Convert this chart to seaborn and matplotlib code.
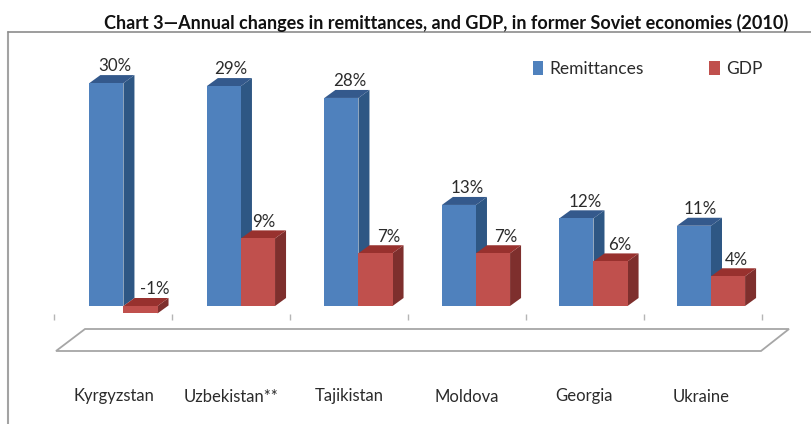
import pandas as pd
import matplotlib
matplotlib.use('Agg')
import matplotlib.pyplot as plt
import seaborn as sns
import numpy as np
from matplotlib.lines import Line2D
from matplotlib.patches import Polygon

# values (bar heights, labels are as printed)
countries = ['Kyrgyzstan', 'Uzbekistan**', 'Tajikistan', 'Moldova', 'Georgia', 'Ukraine']
remittances = [30.0, 29.6, 28.0, 13.6, 11.8, 10.8]
gdp = [-1.0, 9.1, 7.1, 7.1, 6.0, 4.0]
remittances_labels = ['30%', '29%', '28%', '13%', '12%', '11%']
gdp_labels = ['-1%', '9%', '7%', '7%', '6%', '4%']

W, H = 811, 424
BLUE, RED = '#4F81BD', '#C0504D'
shades = {BLUE: ('#2E5784', '#34598C'), RED: ('#7E2F2D', '#98312E')}
TEXT = '#2b2b2b'

sns.set_style('white')
plt.rcParams['font.family'] = ['Lato', 'DejaVu Sans']

df = pd.DataFrame({
    'Country': countries * 2,
    'Change': remittances + gdp,
    'Series': ['Remittances'] * 6 + ['GDP'] * 6,
})


def px(x, y):
    # pixel position in the picture -> figure fraction
    return x / W, 1 - y / H


fig = plt.figure(figsize=(W / 100, H / 100), dpi=100, facecolor='white')
ax = fig.add_axes([54 / W, 1 - 314 / H, 708 / W, 274 / H])
ax.patch.set_alpha(0)

sns.barplot(data=df, x='Country', y='Change', hue='Series', palette=[BLUE, RED],
            width=0.58, gap=0, saturation=1, edgecolor='none', linewidth=0, ax=ax)

ax.set_xlim(-0.591, 5.434)
ax.set_ylim(-1.077, 35.8)
sns.despine(ax=ax, left=True, bottom=True)
ax.set_xlabel('')
ax.set_ylabel('')
ax.set_yticks([])
ax.set_xticks(np.linspace(-0.591, 5.434, 7))
ax.set_xticklabels([])
ax.tick_params(axis='x', bottom=True, length=4.5, width=1, color='#b5b5b5')

# fake 3d: side and top faces hung on the real bars
dx = 11 / 117.5
dy = 8 / 7.43
nudges = [[8, 7, 8, 8, 9, 6], [14, 6, 13, 13, 9, 8]]
labels = [remittances_labels, gdp_labels]
for k, (cont, col) in enumerate(zip(ax.containers, [BLUE, RED])):
    side, top = shades[col]
    for i, bar in enumerate(cont):
        bar.set_zorder(2 + k * 2)
        x0, x1 = bar.get_x(), bar.get_x() + bar.get_width()
        y0, y1 = sorted([bar.get_y(), bar.get_y() + bar.get_height()])
        ax.add_patch(Polygon([(x1, y0), (x1 + dx, y0 + dy), (x1 + dx, y1 + dy), (x1, y1)],
                             fc=side, ec='none', zorder=1 + k * 2))
        ax.add_patch(Polygon([(x0, y1), (x0 + dx, y1 + dy), (x1 + dx, y1 + dy), (x1, y1)],
                             fc=top, ec='none', zorder=1 + k * 2))
        ax.annotate(labels[k][i], xy=((x0 + x1) / 2, y1 + dy), xytext=(nudges[k][i] * 0.72, 0.5),
                    textcoords='offset points', ha='center', va='bottom',
                    fontsize=12.2, color=TEXT, zorder=6)

# category names sit far below the bars
for i, name in enumerate(countries):
    ax.annotate(name, xy=(i, 0), xycoords=ax.get_xaxis_transform(),
                xytext=(-9.5 * 0.72, -82.5 * 0.72), textcoords='offset points',
                ha='center', va='center', fontsize=12, color=TEXT)

# legend
handles, names = ax.get_legend_handles_labels()
ax.legend(handles, names, ncol=2, frameon=False, loc='center left',
          bbox_to_anchor=(px(533, 69)), bbox_transform=fig.transFigure,
          fontsize=12.5, labelcolor=TEXT, handlelength=0.58, handleheight=0.8,
          handletextpad=0.35, columnspacing=3.8, borderpad=0, borderaxespad=0)

# floor and outer frame
fig.add_artist(Polygon([px(56, 351), px(85, 329), px(789, 329), px(761, 351)], closed=True,
                       fc='white', ec='#a6a6a6', lw=1.3, transform=fig.transFigure))
fig.add_artist(Line2D([px(8, 0)[0], px(8, 0)[0]], [px(0, 424)[1], px(0, 32)[1]],
                      color='#a3a3a3', lw=1.5))
fig.add_artist(Line2D([px(8, 0)[0], 1], [px(0, 32)[1], px(0, 32)[1]],
                      color='#8c8c8c', lw=1.2))

fig.text(*px(446, 23), 'Chart 3—Annual changes in remittances, and GDP, in former Soviet economies (2010)',
         ha='center', va='center', fontsize=12.95, fontweight='bold', color='#111111')

fig.savefig('out.png', dpi=100, facecolor='white')
